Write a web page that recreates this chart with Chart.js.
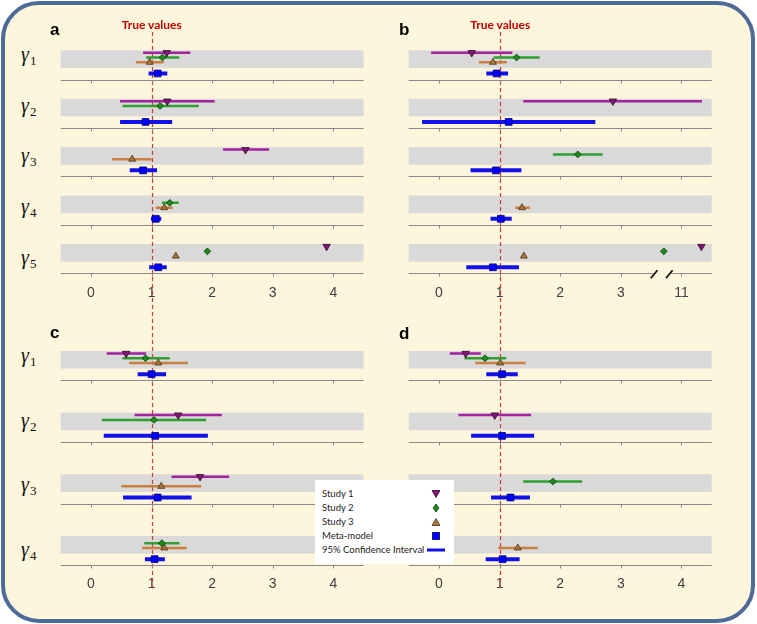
<!DOCTYPE html>
<html>
<head>
<meta charset="utf-8">
<title>Forest plots</title>
<script src="https://cdn.jsdelivr.net/npm/chart.js@4.4.1/dist/chart.umd.min.js"></script>
<style>
  body { margin: 0; background: #fff; }
  #fig { position: relative; width: 757px; height: 624px; overflow: hidden; }
  #frame { position: absolute; left: 1px; top: 1px; width: 746px; height: 614px;
           border: 4px solid #4e6b98; border-radius: 38px; background: #fdf5dc; }
  canvas { position: absolute; }
  .letter { position: absolute; font: bold 17px/17px "Liberation Sans", Arial, sans-serif; color: #000; }
  .truth { position: absolute; font: bold 12px/12px Lato, sans-serif; color: #c00000;
           transform: translateX(-50%); white-space: nowrap; }
  .gamma { position: absolute; left: 21px; font: italic 20px/20px "Liberation Serif", serif;
           color: #111; white-space: nowrap; }
  .gamma span { position: relative; top: 4px; font-style: normal; font-size: 13px; margin-left: 1px; }
  #legend { position: absolute; left: 315px; top: 480px; width: 139px; height: 84px;
            background: #fff; padding-top: 7px; box-sizing: border-box; }
  #legend div { position: relative; height: 14px; font: 9.5px/14px Lato, sans-serif;
                color: #222; padding-left: 7px; }
  #legend svg { position: absolute; top: 50%; left: 121px; transform: translate(-50%, -50%); }
</style>
</head>
<body>
<div id="fig">
  <div id="frame"></div>
  <canvas id="pa" width="324" height="293"></canvas>
  <canvas id="pb" width="324" height="293"></canvas>
  <canvas id="pc" width="324" height="293"></canvas>
  <canvas id="pd" width="324" height="293"></canvas>
  <div id="labels"></div>
  <div id="legend"></div>
</div>
<script>
// axe x commun aux 4 panneaux
const TICKS = [0, 1, 2, 3, 4];
const TICK_LABELS = ['0', '1', '2', '3', '4'];
const TICK_LABELS_B = ['0', '1', '2', '3', '11']; // panneau b : axe coupé après 3
const TRUE_VALUE = 1;

const ROWS_TOP = ['1', '2', '3', '4', '5'];
const ROWS_BOTTOM = ['1', '2', '3', '4'];

const SERIES = ['Study 1', 'Study 2', 'Study 3', 'Meta-model'];
const CI_LABEL = '95% Confidence Interval';

// [estimation, borne basse, borne haute] par ligne gamma ; null = pas d'estimation
const A_STUDY1 = [[1.25, 0.86, 1.64], [1.26, 0.48, 2.04], [2.55, 2.18, 2.94], null, [3.89, null, null]];
const A_STUDY2 = [[1.18, 0.91, 1.46], [1.14, 0.52, 1.78], null, [1.30, 1.17, 1.45], [1.92, null, null]];
const A_STUDY3 = [[0.97, 0.74, 1.20], null, [0.68, 0.35, 1.00], [1.21, 1.07, 1.35], [1.40, null, null]];
const A_META = [[1.10, 0.95, 1.26], [0.90, 0.48, 1.34], [0.86, 0.64, 1.09], [1.07, 0.99, 1.16], [1.11, 0.96, 1.25]];

const B_STUDY1 = [[0.54, -0.13, 1.21], [2.87, 1.39, 11.34], null, null, [11.33, null, null]];
const B_STUDY2 = [[1.28, 0.90, 1.66], null, [2.29, 1.88, 2.70], null, [10.71, null, null]];
const B_STUDY3 = [[0.89, 0.66, 1.12], null, null, [1.37, 1.26, 1.50], [1.40, null, null]];
const B_META = [[0.95, 0.78, 1.14], [1.15, -0.28, 2.58], [0.94, 0.52, 1.36], [1.02, 0.85, 1.20], [0.89, 0.45, 1.32]];

const C_STUDY1 = [[0.58, 0.26, 0.91], [1.44, 0.72, 2.16], [1.80, 1.33, 2.28], null];
const C_STUDY2 = [[0.90, 0.52, 1.30], [1.04, 0.18, 1.90], null, [1.17, 0.88, 1.46]];
const C_STUDY3 = [[1.11, 0.63, 1.60], null, [1.16, 0.50, 1.82], [1.21, 0.84, 1.58]];
const C_META = [[1.00, 0.77, 1.24], [1.06, 0.21, 1.93], [1.10, 0.53, 1.66], [1.05, 0.89, 1.22]];

const D_STUDY1 = [[0.44, 0.18, 0.69], [0.92, 0.32, 1.52], null, null];
const D_STUDY2 = [[0.76, 0.42, 1.11], null, [1.88, 1.39, 2.36], null];
const D_STUDY3 = [[1.01, 0.60, 1.43], null, null, [1.30, 0.98, 1.63]];
const D_META = [[1.04, 0.78, 1.30], [1.04, 0.53, 1.57], [1.18, 0.86, 1.50], [1.05, 0.77, 1.33]];

// axe coupé du panneau b : 10.5 réel -> 3.5 affiché
const brokenAxis = (v) => (v == null ? v : v > 10 ? v - 7 : v);

// styles
const LINE_COLORS = ['#a3229e', '#31a031', '#c9803f', '#1212e6'];
const FILL_COLORS = ['#7d1a73', '#1d8a1d', '#a9763a', '#0000ff'];
const EDGE_COLORS = ['#35082f', '#0b3d0b', '#4b3212', '#00006e'];
const MARKERS = [
  { style: 'triangle', rot: 180, r: 4.3 },
  { style: 'rectRot', rot: 0, r: 3.4 },
  { style: 'triangle', rot: 0, r: 4 },
  { style: 'rect', rot: 0, r: 4.8 },
];
const OFFSETS = [28, 23, 18, 6.3]; // px au-dessus de la ligne d'axe de chaque rangée
const BAND = [30.6, 12.2];

const CANVAS_W = 324, CANVAS_H = 293, AXIS_H = 16.8 + 11;
const TOP = { canvasY: 20, areaY: 31.05, rowPx: 50.65 };
const BOTTOM = { canvasY: 312, areaY: 318.6, rowPx: 64.4 };
const LEFT = { canvasX: 50, areaX: 60.7, areaW: 302.9 };
const RIGHT = { canvasX: 398, areaX: 408.7, areaW: 303 };

function decorPlugin(rows, rowPx, dash, brk) {
  return {
    id: 'decor',
    beforeDatasetsDraw(chart) {
      const { ctx, chartArea: ca, scales: { x, y } } = chart;
      ctx.save();

      // bandes grises
      ctx.fillStyle = '#d9d9d9';
      rows.forEach((_, i) => {
        const base = (i + 1) * rowPx;
        const t = y.getPixelForValue(base - BAND[0]);
        const b = y.getPixelForValue(base - BAND[1]);
        ctx.fillRect(ca.left, t, ca.width, b - t);
      });

      // valeur vraie
      const tx = Math.round(x.getPixelForValue(TRUE_VALUE)) + 0.5;
      ctx.strokeStyle = '#d23a3a';
      ctx.lineWidth = 1.2;
      ctx.setLineDash([4, 3]);
      ctx.beginPath();
      ctx.moveTo(tx, dash[0]);
      ctx.lineTo(tx, dash[1]);
      ctx.stroke();
      ctx.setLineDash([]);

      // une ligne d'axe par rangée
      ctx.strokeStyle = '#8a8a8a';
      ctx.lineWidth = 1;
      rows.forEach((_, i) => {
        const ly = Math.round(y.getPixelForValue((i + 1) * rowPx)) + 0.5;
        ctx.beginPath();
        if (brk && i === rows.length - 1) {
          ctx.moveTo(ca.left, ly);
          ctx.lineTo(x.getPixelForValue(brk[0]) - 1, ly);
          ctx.moveTo(x.getPixelForValue(brk[1]) + 1, ly);
          ctx.lineTo(ca.right, ly);
        } else {
          ctx.moveTo(ca.left, ly);
          ctx.lineTo(ca.right, ly);
        }
        TICKS.forEach((v) => {
          const px = Math.round(x.getPixelForValue(v)) + 0.5;
          ctx.moveTo(px, ly);
          ctx.lineTo(px, ly + 3);
        });
        ctx.stroke();
      });

      // marques de coupure
      if (brk) {
        const ly = ca.bottom;
        ctx.strokeStyle = '#111';
        ctx.lineWidth = 1.8;
        ctx.beginPath();
        brk.forEach((v) => {
          const px = x.getPixelForValue(v);
          ctx.moveTo(px - 3.3, ly + 5);
          ctx.lineTo(px + 3.3, ly - 3);
        });
        ctx.stroke();
      }
      ctx.restore();
    },
  };
}

function drawPanel(id, col, row, rows, series, tickLabels, extra = {}) {
  const toX = extra.toX || ((v) => v);
  const rowPx = row.rowPx;
  const yOf = (i, k) => (i + 1) * rowPx - OFFSETS[k];

  const markers = series.map((vals, k) => ({
    label: SERIES[k],
    data: vals.map((r, i) => r && { x: toX(r[0]), y: yOf(i, k) }).filter(Boolean),
    pointStyle: MARKERS[k].style,
    pointRotation: MARKERS[k].rot,
    pointRadius: MARKERS[k].r,
    pointBackgroundColor: FILL_COLORS[k],
    pointBorderColor: EDGE_COLORS[k],
    pointBorderWidth: 0.8,
  }));

  const lines = series.map((vals, k) => ({
    label: SERIES[k] + ' CI',
    data: vals.flatMap((r, i) =>
      r && r[1] != null
        ? [{ x: toX(r[1]), y: yOf(i, k) }, { x: toX(r[2]), y: yOf(i, k) }, { x: null, y: null }]
        : []
    ),
    showLine: true,
    spanGaps: false,
    pointRadius: 0,
    borderColor: LINE_COLORS[k],
    borderWidth: k === 3 ? 4 : 2.5,
    borderCapStyle: 'butt',
  }));

  const canvas = document.getElementById(id);
  canvas.style.left = col.canvasX + 'px';
  canvas.style.top = row.canvasY + 'px';

  const padTop = row.areaY - row.canvasY;
  const padLeft = col.areaX - col.canvasX;

  new Chart(canvas, {
    type: 'scatter',
    data: { datasets: [...markers, ...lines] },
    options: {
      responsive: false,
      animation: false,
      events: [],
      layout: {
        padding: {
          left: padLeft,
          right: CANVAS_W - padLeft - col.areaW,
          top: padTop,
          bottom: CANVAS_H - padTop - rows.length * rowPx - AXIS_H,
        },
      },
      plugins: { legend: { display: false }, tooltip: { enabled: false } },
      scales: {
        x: {
          type: 'linear',
          min: -0.5,
          max: 4.5,
          afterBuildTicks: (s) => { s.ticks = TICKS.map((v) => ({ value: v })); },
          grid: { display: false, drawTicks: false },
          border: { display: false },
          ticks: {
            padding: 11,
            color: '#404040',
            font: { family: '"Liberation Sans", Arial, sans-serif', size: 14 },
            callback: (v) => tickLabels[TICKS.indexOf(v)],
          },
        },
        y: { type: 'linear', display: false, reverse: true, min: 0, max: rows.length * rowPx },
      },
    },
    plugins: [decorPlugin(rows, rowPx, extra.dash, extra.brk)],
  });
}

const topDash = [TOP.areaY - TOP.canvasY + 1, CANVAS_H];
const botDash = [0, BOTTOM.areaY - BOTTOM.canvasY + ROWS_BOTTOM.length * BOTTOM.rowPx + 12];

drawPanel('pa', LEFT, TOP, ROWS_TOP, [A_STUDY1, A_STUDY2, A_STUDY3, A_META], TICK_LABELS, { dash: topDash });
drawPanel('pb', RIGHT, TOP, ROWS_TOP, [B_STUDY1, B_STUDY2, B_STUDY3, B_META], TICK_LABELS_B,
  { dash: topDash, toX: brokenAxis, brk: [3.55, 3.8] });
drawPanel('pc', LEFT, BOTTOM, ROWS_BOTTOM, [C_STUDY1, C_STUDY2, C_STUDY3, C_META], TICK_LABELS, { dash: botDash });
drawPanel('pd', RIGHT, BOTTOM, ROWS_BOTTOM, [D_STUDY1, D_STUDY2, D_STUDY3, D_META], TICK_LABELS, { dash: botDash });

// textes : lettres, "True values", gamma
const labels = [];
[['a', 50, 20.6], ['b', 399, 20.6], ['c', 50, 324], ['d', 399, 325]].forEach(([t, lx, ly]) => {
  labels.push(`<div class="letter" style="left:${lx}px;top:${ly}px">${t}</div>`);
});
[151.7, 500.2].forEach((cx) => {
  labels.push(`<div class="truth" style="left:${cx}px;top:18.7px">True values</div>`);
});
ROWS_TOP.forEach((s, i) => {
  const ly = TOP.areaY + (i + 1) * TOP.rowPx;
  labels.push(`<div class="gamma" style="top:${ly - 37.7}px">γ<span>${s}</span></div>`);
});
ROWS_BOTTOM.forEach((s, i) => {
  const ly = BOTTOM.areaY + (i + 1) * BOTTOM.rowPx;
  labels.push(`<div class="gamma" style="top:${ly - 37.7}px">γ<span>${s}</span></div>`);
});
document.getElementById('labels').innerHTML = labels.join('');

// légende
const legendIcons = [
  `<svg width="9" height="8"><polygon points="0.5,0.5 8.5,0.5 4.5,7.5" fill="${FILL_COLORS[0]}" stroke="${EDGE_COLORS[0]}" stroke-width="0.8"/></svg>`,
  `<svg width="7" height="9"><polygon points="3.5,0.5 6.5,4.5 3.5,8.5 0.5,4.5" fill="${FILL_COLORS[1]}" stroke="${EDGE_COLORS[1]}" stroke-width="0.8"/></svg>`,
  `<svg width="9" height="8"><polygon points="4.5,0.5 8.5,7.5 0.5,7.5" fill="${FILL_COLORS[2]}" stroke="${EDGE_COLORS[2]}" stroke-width="0.8"/></svg>`,
  `<svg width="8" height="8"><rect x="0.5" y="0.5" width="7" height="7" fill="${FILL_COLORS[3]}" stroke="${EDGE_COLORS[3]}" stroke-width="0.8"/></svg>`,
  `<svg width="18" height="4"><rect x="0" y="0.5" width="18" height="3" fill="${LINE_COLORS[3]}"/></svg>`,
];
document.getElementById('legend').innerHTML = [...SERIES, CI_LABEL]
  .map((t, i) => `<div>${t}${legendIcons[i]}</div>`)
  .join('');
</script>
</body>
</html>
